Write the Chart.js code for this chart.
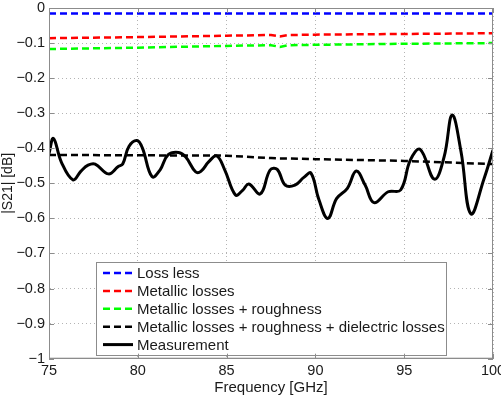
<!DOCTYPE html>
<html>
<head>
<meta charset="utf-8">
<script src="https://cdn.jsdelivr.net/npm/chart.js@4.4.1/dist/chart.umd.min.js"></script>
<style>
  html, body { margin: 0; padding: 0; background: #fff; }
  #wrap { width: 501px; height: 399px; }
</style>
</head>
<body>
<div id="wrap"><canvas id="s21Chart" width="501" height="399"></canvas></div>
<script>
// model curves (sampled frequencies, GHz)
const modelFreq = [75, 80, 85, 87.5, 88, 88.5, 90, 95, 100];
const lossLess = [-0.016, -0.016, -0.016, -0.016, -0.016, -0.016, -0.016, -0.016, -0.016];
const metallic = [-0.086, -0.083, -0.079, -0.077, -0.081, -0.077, -0.076, -0.074, -0.072];
const metallicRough = [-0.117, -0.113, -0.108, -0.106, -0.111, -0.106, -0.105, -0.102, -0.100];
const metallicRoughDiel = [-0.419, -0.420, -0.421, -0.428, -0.429, -0.429, -0.431, -0.436, -0.445];

// measured curve
const measFreq = [75, 75.25, 75.7, 76.35, 76.8, 77.2, 77.6, 78.35, 78.9, 79.15, 79.5, 79.95,
  80.25, 80.8, 81.25, 81.7, 82.3, 82.7, 83.25, 83.55, 84.0, 84.45, 84.9, 85.5, 85.9, 86.25,
  86.9, 87.45, 87.85, 88.3, 88.85, 89.35, 89.75, 90.2, 90.7, 91.2, 91.8, 92.3, 92.8, 93.3,
  94.1, 94.8, 95.35, 95.9, 96.7, 97.25, 97.7, 98.2, 98.75, 99.5, 100];
const measurement = [-0.415, -0.372, -0.44, -0.49, -0.465, -0.448, -0.445, -0.473, -0.452, -0.445, -0.395, -0.378,
  -0.398, -0.481, -0.462, -0.419, -0.412, -0.425, -0.467, -0.466, -0.438, -0.422, -0.462, -0.533, -0.52, -0.502,
  -0.530, -0.462, -0.460, -0.505, -0.505, -0.483, -0.471, -0.547, -0.600, -0.543, -0.514, -0.465, -0.505, -0.555,
  -0.524, -0.519, -0.433, -0.403, -0.488, -0.424, -0.305, -0.41, -0.587, -0.486, -0.405];

const xTicks = [75, 80, 85, 90, 95, 100];
const yTicks = [0, -0.1, -0.2, -0.3, -0.4, -0.5, -0.6, -0.7, -0.8, -0.9, -1];

const pts = (xs, ys) => xs.map((x, i) => ({x: x, y: ys[i]}));
const FONT = "'Liberation Sans', Arial, sans-serif";
const AXIS = '#8c8c8c';
const TXT = '#1a1a1a';

// box around the axes + inward tick marks
const boxPlugin = {
  id: 'box',
  afterDraw(chart) {
    const {ctx, chartArea: a, scales} = chart;
    ctx.save();
    ctx.strokeStyle = AXIS;
    ctx.lineWidth = 1;
    ctx.strokeRect(a.left + 0.5, a.top + 0.5, a.right - a.left - 1, a.bottom - a.top - 1);
    ctx.beginPath();
    xTicks.forEach(v => {
      const px = Math.round(scales.x.getPixelForValue(v)) + 0.5;
      ctx.moveTo(px, a.bottom); ctx.lineTo(px, a.bottom - 5);
      ctx.moveTo(px, a.top); ctx.lineTo(px, a.top + 5);
    });
    yTicks.forEach(v => {
      const py = Math.round(scales.y.getPixelForValue(v)) + 0.5;
      ctx.moveTo(a.left, py); ctx.lineTo(a.left + 5, py);
      ctx.moveTo(a.right, py); ctx.lineTo(a.right - 5, py);
    });
    ctx.stroke();
    ctx.restore();
  }
};

// legend box inside the plot, lower left
const legendPlugin = {
  id: 'boxLegend',
  afterDatasetsDraw(chart) {
    const ctx = chart.ctx;
    const bx = 96, by = 262, bw = 350, bh = 93;
    ctx.save();
    ctx.fillStyle = '#fff';
    ctx.fillRect(bx, by, bw, bh);
    ctx.strokeStyle = AXIS;
    ctx.lineWidth = 1;
    ctx.strokeRect(bx + 0.5, by + 0.5, bw, bh);
    ctx.font = '15px ' + FONT;
    ctx.textBaseline = 'middle';
    chart.data.datasets.forEach((ds, i) => {
      const y = by + 11 + i * 17.9;
      ctx.strokeStyle = ds.borderColor;
      ctx.lineWidth = ds.borderWidth;
      ctx.setLineDash(ds.borderDash || []);
      ctx.beginPath();
      ctx.moveTo(103, y); ctx.lineTo(133, y);
      ctx.stroke();
      ctx.setLineDash([]);
      ctx.fillStyle = TXT;
      ctx.fillText(ds.label, 137, y + 1);
    });
    ctx.restore();
  }
};

const dashed = (label, color, data) => ({
  label: label, data: data, borderColor: color, borderWidth: 2.5,
  borderDash: [7, 4], pointRadius: 0, tension: 0, fill: false
});

new Chart(document.getElementById('s21Chart').getContext('2d'), {
  type: 'line',
  data: {
    datasets: [
      dashed('Loss less', '#0000ff', pts(modelFreq, lossLess)),
      dashed('Metallic losses', '#ff0000', pts(modelFreq, metallic)),
      dashed('Metallic losses + roughness', '#00ff00', pts(modelFreq, metallicRough)),
      dashed('Metallic losses + roughness + dielectric losses', '#000000', pts(modelFreq, metallicRoughDiel)),
      {
        label: 'Measurement', data: pts(measFreq, measurement), borderColor: '#000000',
        borderWidth: 3, pointRadius: 0, tension: 0.4, fill: false
      }
    ]
  },
  options: {
    responsive: false,
    animation: false,
    devicePixelRatio: 1,
    layout: { padding: { top: 8, right: 8, left: 0, bottom: 0 } },
    plugins: { legend: { display: false }, tooltip: { enabled: false } },
    scales: {
      x: {
        type: 'linear', min: 75, max: 100,
        afterBuildTicks: s => { s.ticks = xTicks.map(v => ({value: v})); },
        afterFit: s => { s.height = 40.3; s.paddingLeft = 0; s.paddingRight = 0; },
        grid: { color: '#b4b4b4', lineWidth: 1, drawTicks: false },
        border: { display: true, color: AXIS, dash: [1, 3] },
        ticks: { padding: 4, maxRotation: 0, autoSkip: false, color: TXT, font: { family: FONT, size: 14.5 } },
        title: { display: true, text: 'Frequency [GHz]', color: TXT, font: { family: FONT, size: 15 }, padding: { top: 0, bottom: 2 } }
      },
      y: {
        type: 'linear', min: -1, max: 0,
        afterBuildTicks: s => { s.ticks = yTicks.map(v => ({value: v})); },
        afterFit: s => { s.width = 49; s.paddingTop = 0; s.paddingBottom = 0; },
        grid: { color: '#b4b4b4', lineWidth: 1, drawTicks: false },
        border: { display: true, color: AXIS, dash: [1, 3] },
        ticks: {
          padding: 4, autoSkip: false, color: TXT, font: { family: FONT, size: 14.5 },
          callback: v => (v === 0 ? '0' : String(Math.round(v * 10) / 10).replace('-', '\u2212'))
        },
        title: { display: true, text: '|S21| [dB]', color: TXT, font: { family: FONT, size: 14 }, padding: { top: 0, bottom: 0 } }
      }
    }
  },
  plugins: [boxPlugin, legendPlugin]
});
</script>
</body>
</html>
